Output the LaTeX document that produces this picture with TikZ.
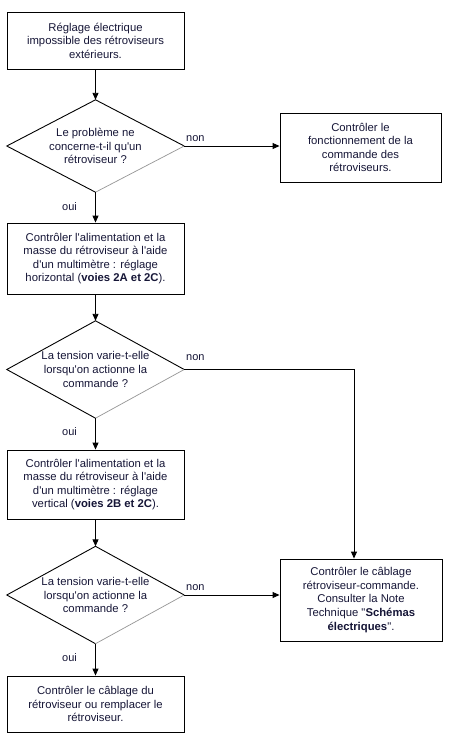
\documentclass[tikz,border=0pt]{standalone}
\usepackage{fontspec}
\setmainfont{Liberation Sans}[Ligatures=TeXOff]
\usetikzlibrary{arrows.meta}
\definecolor{txt}{RGB}{22,22,55}
\definecolor{edgegray}{RGB}{150,150,150}
\tikzset{
  every node/.style={font=\fontsize{11.3}{13.6}\selectfont, text=txt, align=center, inner sep=0pt},
  box/.style={draw=black, line width=0.9pt, minimum width=177pt, anchor=center},
  dia/.style={minimum width=177pt, anchor=center},
  dedge/.style={line width=0.9pt, draw=black},
  dlight/.style={line width=0.7pt, draw=edgegray},
  flow/.style={line width=0.9pt, -{Triangle[length=7pt,width=6pt]}},
  plain/.style={line width=0.9pt},
  lab/.style={font=\fontsize{11}{13}\selectfont, text=txt, anchor=west}
}
\begin{document}
\begin{tikzpicture}[x=1pt,y=-1pt]
\fill[white] (0,0) rectangle (448,740);
\useasboundingbox (0,0) rectangle (448,740);

\node[box, minimum height=57pt] (b1) at (95.5,40.5) {Réglage électrique\\impossible des rétroviseurs\\extérieurs.};
\node[dia, minimum height=92pt] (d1) at (95.5,146) {Le problème ne\\concerne-t-il qu'un\\rétroviseur ?};
\node[box, minimum width=161pt, minimum height=69pt] (b2) at (360.5,147.5) {Contrôler le\\fonctionnement de la\\commande des\\rétroviseurs.};
\node[box, minimum height=71pt] (b3) at (95.5,258.5) {Contrôler l'alimentation et la\\masse du rétroviseur à l'aide\\d'un multimètre : réglage\\horizontal (\textbf{voies 2A et 2C}).};
\node[dia, minimum height=97pt] (d2) at (95.5,369.5) {La tension varie-t-elle\\lorsqu'on actionne la\\commande ?};
\node[box, minimum height=69pt] (b4) at (95.5,484.5) {Contrôler l'alimentation et la\\masse du rétroviseur à l'aide\\d'un multimètre : réglage\\vertical (\textbf{voies 2B et 2C}).};
\node[dia, minimum height=97pt] (d3) at (95.5,595) {La tension varie-t-elle\\lorsqu'on actionne la\\commande ?};
\node[box, minimum height=56pt] (b5) at (95.5,704) {Contrôler le câblage du\\rétroviseur ou remplacer le\\rétroviseur.};
\node[box, minimum width=162pt, minimum height=82pt] (b6) at (361,600) {Contrôler le câblage\\rétroviseur-commande.\\Consulter la Note\\Technique "\textbf{Schémas}\\\textbf{électriques}".};

% diamond outlines
\foreach \d in {d1,d2,d3}{
  \draw[dedge] (\d.south) -- (\d.west) -- (\d.north) -- (\d.east);
  \draw[dlight] (\d.east) -- (\d.south);
}

% connectors
\draw[flow] (b1) -- (d1.north);
\draw[flow] (d1.east) -- (d1.east -| b2.west);
\draw[flow] (d1.south) -- (b3.north);
\draw[flow] (b3) -- (d2.north);
\coordinate (c1) at ([xshift=-7pt]b6.north);
\draw[flow] (d2.east) -| (c1);
\draw[flow] (d2.south) -- (b4.north);
\draw[flow] (b4) -- (d3.north);
\draw[flow] (d3.east) -- (d3.east -| b6.west);
\draw[flow] (d3.south) -- (b5.north);

% labels
\node[lab] (n1) at (186,139) {non};
\node[lab] (o1) at (62,207) {oui};
\node[lab] (n2) at (186,358) {non};
\node[lab] (o2) at (62,432) {oui};
\node[lab] (n3) at (186,588) {non};
\node[lab] (o3) at (62,658) {oui};
\end{tikzpicture}
\end{document}
